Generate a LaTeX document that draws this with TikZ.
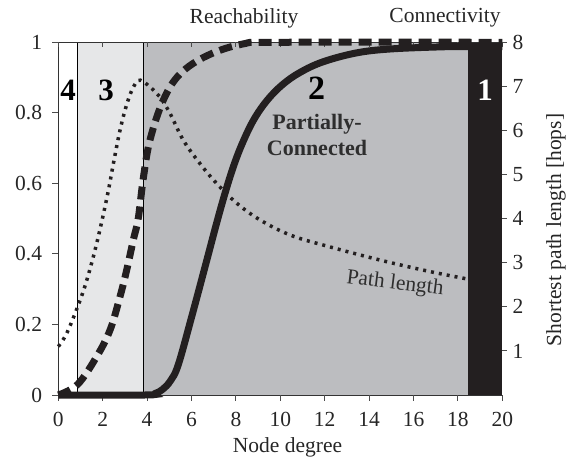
\documentclass[tikz,border=0pt]{standalone}
\usepackage{fontspec}
\setmainfont{Liberation Serif}
\begin{document}
\begin{tikzpicture}[
  x=1pt,y=1pt,
  lbl/.style={font=\fontsize{21.5}{24}\selectfont, inner sep=0pt, text=black!85},
  bignum/.style={font=\fontsize{31}{34}\selectfont\bfseries, inner sep=0pt},
  axisline/.style={draw=black!80, line width=0.9pt},
  tickline/.style={draw=black!70, line width=0.9pt},
  curvecol/.style={draw=ink},
]
\definecolor{ink}{HTML}{231F20}
\definecolor{lightreg}{HTML}{E6E7E8}
\definecolor{midreg}{HTML}{BCBDC0}
\definecolor{txtgray}{HTML}{2E2E2E}
\useasboundingbox (0,0) rectangle (570,458);
\begin{scope}[shift={(58.3pt,63pt)}, x=22.2pt, y=352.7pt]
  % regions
  \fill[lightreg] (0.87,0) rectangle (3.83,1);
  \fill[midreg] (3.83,0) rectangle (18.44,1);
  \fill[ink] (18.44,0) rectangle (20,1);
  \draw[black, line width=0.8pt] (0.87,0) -- (0.87,1);
  \draw[black, line width=0.8pt] (3.83,0) -- (3.83,1);
  % axes frame
  \draw[axisline] (0,1) -- (0,0) -- (20,0);
  \draw[axisline] (0,1) -- (20,1);
  % bottom ticks and labels
  \foreach \t in {0,2,...,20} {
    \draw[tickline] (\t,0) -- ++(0,-6pt);
    \draw[tickline] (\t,1) -- ++(0,-5pt);
    \node[lbl, anchor=north] (bx\t) at ([yshift=-17pt]\t,0) {\t};
  }
  % left ticks and labels
  \foreach \v/\s in {0/0,0.2/0.2,0.4/0.4,0.6/0.6,0.8/0.8,1/1} {
    \draw[tickline] (0,\v) -- ++(-6pt,0);
    \node[lbl, anchor=east] (ly\s) at ([xshift=-16pt]0,\v) {\s};
  }
  % right ticks and labels
  \foreach \h in {1,...,8} {
    \draw[tickline] (20,\h/8) -- ++(5pt,0);
    \node[lbl, anchor=west] (ry\h) at ([xshift=10pt]20,\h/8) {\h};
  }
  % Reachability (dashed)
  \draw[curvecol, line width=7pt, dash pattern=on 13pt off 7pt] plot[smooth, tension=0.6] coordinates {
    (0,0) (0.87,0.03) (1.73,0.109) (2.33,0.184) (2.78,0.279) (3.08,0.354) (3.38,0.44)
    (3.6,0.5) (3.83,0.615) (4.13,0.723) (4.73,0.836) (5.48,0.91) (6.7,0.962) (8.3,0.995) (10,1) (20,1)};
  % Connectivity (solid)
  \draw[curvecol, line width=7pt] plot[smooth, tension=0.6] coordinates {
    (0,0) (3.9,0) (4.35,0.004) (4.7,0.016) (5.05,0.04) (5.4,0.085) (6.0,0.22) (6.68,0.38)
    (7.1,0.48) (7.5,0.57) (7.9,0.65) (8.3,0.715) (8.8,0.78) (9.4,0.835) (10.1,0.88)
    (10.9,0.915) (11.94,0.945) (13.44,0.97) (14.94,0.981) (17.2,0.987) (18.44,0.988) (20,0.988)};
  % Path length (dotted, right axis: hops/8)
  \draw[curvecol, line width=3.5pt, dash pattern=on 3pt off 5pt] plot[smooth, tension=0.6] coordinates {
    (0,1.1/8) (0.38,1.4/8) (0.9,2.04/8) (1.28,2.6/8) (1.73,3.44/8) (2.2,4.5/8) (2.5,5.3/8)
    (2.8,6.05/8) (3.1,6.62/8) (3.4,7.0/8) (3.7,7.14/8) (4.28,6.92/8) (4.58,6.76/8) (5.03,6.39/8)
    (5.63,5.78/8) (6.38,5.25/8) (7.13,4.8/8) (8.04,4.35/8) (9.09,3.97/8) (10.44,3.63/8)
    (11.94,3.4/8) (14.5,3.06/8) (16.74,2.8/8) (18.44,2.63/8)};
\end{scope}
% region numbers
\node[bignum] (r4) at (68,368) {4};
\node[bignum] (r3) at (106,368) {3};
\node[bignum, font=\fontsize{34}{36}\selectfont\bfseries] (r2) at (316.7,369.5) {2};
\node[bignum, text=white] (r1) at (485,368) {1};
\node[font=\fontsize{22}{26.5}\selectfont\bfseries, align=center, inner sep=0pt, text=txtgray] (pc) at (317,323) {Partially-\\Connected};
\node[lbl, text=txtgray, rotate=-7] (pl) at (395,174) {Path length};
% axis titles
\node[lbl] (reach) at (244,440) {Reachability};
\node[lbl] (conn) at (445,440) {Connectivity};
\node[lbl] (xlab) at (287.5,11) {Node degree};
\node[lbl, rotate=90] (ylab) at (556,228) {Shortest path length [hops]};
\end{tikzpicture}
\end{document}
